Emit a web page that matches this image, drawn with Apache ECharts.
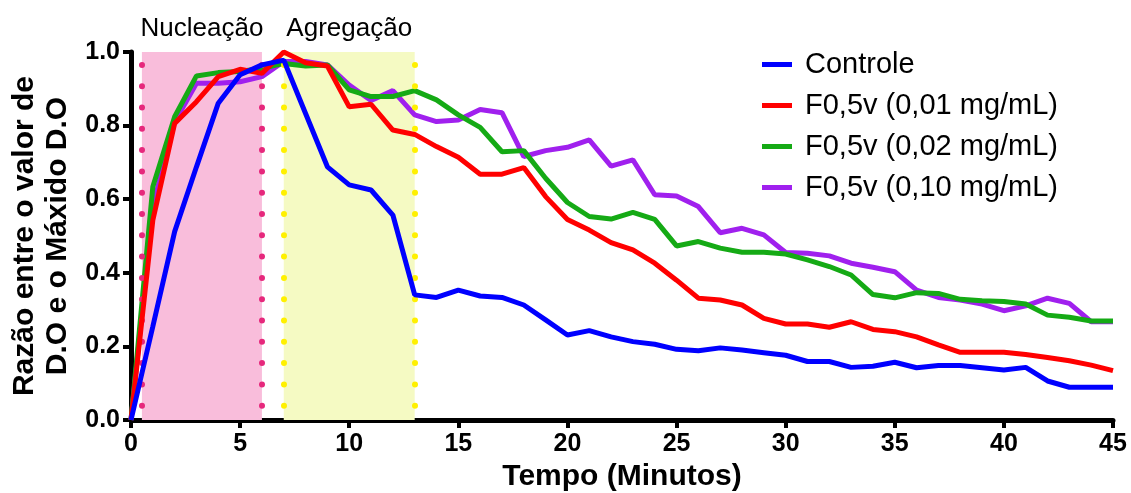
<!DOCTYPE html>
<html>
<head>
<meta charset="utf-8">
<script src="https://cdn.jsdelivr.net/npm/echarts@6/dist/echarts.min.js"></script>
<style>
  html, body { margin: 0; padding: 0; background: #ffffff; }
  #chart { width: 1131px; height: 493px; }
</style>
</head>
<body>
<div id="chart"></div>
<script>
// Time points (minutes)
const minutes = [0,1,2,3,4,5,6,7,8,9,10,11,12,13,14,15,16,17,18,19,20,21,22,23,24,25,26,27,28,29,30,31,32,33,34,35,36,37,38,39,40,41,42,43,44,45];

// Ratio between O.D. value and maximum O.D.
const controle = [0,0.254,0.512,0.688,0.861,0.938,0.965,0.978,0.833,0.688,0.639,0.625,0.557,0.34,0.333,0.353,0.337,0.333,0.3125,0.272,0.231,0.243,0.226,0.213,0.206,0.192,0.188,0.196,0.19,0.183,0.176,0.159,0.159,0.143,0.146,0.157,0.142,0.148,0.148,0.142,0.136,0.143,0.106,0.089,0.089,0.089];
const f001 = [0,0.543,0.806,0.865,0.933,0.953,0.942,1.0,0.971,0.962,0.851,0.858,0.788,0.776,0.743,0.714,0.668,0.668,0.686,0.607,0.545,0.516,0.482,0.462,0.426,0.38,0.331,0.326,0.3125,0.276,0.261,0.261,0.252,0.267,0.246,0.24,0.226,0.204,0.184,0.184,0.184,0.178,0.17,0.161,0.149,0.134];
const f002 = [0,0.634,0.824,0.935,0.944,0.947,0.956,0.969,0.962,0.965,0.897,0.879,0.879,0.895,0.87,0.829,0.795,0.729,0.732,0.657,0.591,0.553,0.546,0.564,0.545,0.473,0.485,0.467,0.456,0.456,0.451,0.435,0.417,0.394,0.341,0.332,0.346,0.344,0.328,0.324,0.322,0.315,0.285,0.279,0.269,0.269];
const f010 = [0,0.58,0.81,0.915,0.915,0.919,0.933,0.974,0.974,0.965,0.91,0.868,0.895,0.829,0.811,0.815,0.844,0.835,0.716,0.732,0.741,0.761,0.69,0.707,0.612,0.609,0.58,0.509,0.521,0.503,0.455,0.453,0.446,0.426,0.415,0.403,0.353,0.333,0.326,0.315,0.297,0.31,0.331,0.317,0.267,0.267];

const seriesNames = ['Controle', 'F0,5v (0,01 mg/mL)', 'F0,5v (0,02 mg/mL)', 'F0,5v (0,10 mg/mL)'];

// Phases (start, end in minutes)
const phaseNames = ['Nucleação', 'Agregação'];
const phaseStart = [0.5, 7];
const phaseEnd = [6, 13];

const xTicks = { min: 0, max: 45, interval: 5 };
const yTicks = { min: 0, max: 1, interval: 0.2 };

const FONT = '"Liberation Sans", Arial, Helvetica, sans-serif';

function pairs(vals) { return minutes.map((t, i) => [t, vals[i]]); }

const phaseFill = ['#f9bddb', '#f5fac3'];
const phaseDot = ['#e6287c', '#fff000'];

function lineSeries(name, vals, color, extra) {
  return Object.assign({
    name: name,
    type: 'line',
    data: pairs(vals),
    showSymbol: false,
    symbol: 'none',
    clip: false,
    lineStyle: { color: color, width: 5 },
    itemStyle: { color: color },
    emphasis: { disabled: true },
    z: 3
  }, extra || {});
}

// dotted boundary: zero-length dashes with round caps
const dotLine = (x, color) => ({
  xAxis: x,
  lineStyle: { color: color, width: 6, type: [0, 21.3], dashOffset: 7, cap: 'round' }
});

const option = {
  animation: false,
  backgroundColor: '#ffffff',
  grid: { left: 131, right: 18, top: 52, bottom: 73, containLabel: false, outerBoundsMode: 'none' },
  legend: {
    orient: 'vertical',
    left: 757,
    top: 45,
    data: seriesNames,
    itemWidth: 30,
    itemHeight: 5,
    itemGap: 12,
    icon: 'rect',
    textStyle: { fontFamily: FONT, fontSize: 29, color: '#000', padding: [0, 0, 0, 8] }
  },
  xAxis: {
    type: 'value',
    min: xTicks.min, max: xTicks.max, interval: xTicks.interval,
    name: 'Tempo (Minutos)',
    nameLocation: 'middle',
    nameGap: 42,
    nameTextStyle: { fontFamily: FONT, fontSize: 30, fontWeight: 'bold', color: '#000' },
    axisLine: { onZero: false, lineStyle: { color: '#000', width: 5 } },
    axisTick: { show: true, length: 8, lineStyle: { color: '#000', width: 4 } },
    axisLabel: { fontFamily: FONT, fontSize: 25, fontWeight: 'bold', color: '#000', margin: 12 },
    splitLine: { show: false }
  },
  yAxis: {
    type: 'value',
    min: yTicks.min, max: yTicks.max, interval: yTicks.interval,
    name: 'Razão entre o valor de\nD.O e o Máxido D.O',
    nameLocation: 'middle',
    nameRotate: 90,
    nameGap: 55,
    nameTextStyle: { fontFamily: FONT, fontSize: 30, fontWeight: 'bold', color: '#000', lineHeight: 33 },
    axisLine: { onZero: false, lineStyle: { color: '#000', width: 5 } },
    axisTick: { show: true, length: 8, lineStyle: { color: '#000', width: 4 } },
    axisLabel: { fontFamily: FONT, fontSize: 25, fontWeight: 'bold', color: '#000', margin: 11,
      formatter: v => v.toFixed(1) },
    splitLine: { show: false }
  },
  series: [
    // phase bands, dotted boundaries and phase labels
    {
      type: 'line',
      data: [],
      silent: true,
      z: 1,
      markArea: {
        silent: true,
        data: phaseNames.map((n, i) => [
          { xAxis: phaseStart[i], yAxis: yTicks.max, name: n,
            itemStyle: { color: phaseFill[i] },
            label: { show: true, position: 'top', distance: 10, color: '#000',
                     fontFamily: FONT, fontSize: 26 } },
          { xAxis: phaseEnd[i], yAxis: yTicks.min }
        ])
      },
      markLine: {
        silent: true,
        symbol: ['none', 'none'],
        label: { show: false },
        data: [
          dotLine(phaseStart[0], phaseDot[0]),
          dotLine(phaseEnd[0], phaseDot[0]),
          dotLine(phaseStart[1], phaseDot[1]),
          dotLine(phaseEnd[1], phaseDot[1])
        ]
      }
    },
    lineSeries(seriesNames[3], f010, '#a020ee', { z: 3 }),
    lineSeries(seriesNames[2], f002, '#15aa15', { z: 4 }),
    lineSeries(seriesNames[1], f001, '#ff0000', { z: 5 }),
    lineSeries(seriesNames[0], controle, '#0000ff', { z: 6 })
  ]
};

const chart = echarts.init(document.getElementById('chart'), null, { renderer: 'canvas' });
chart.setOption(option);
</script>
</body>
</html>
